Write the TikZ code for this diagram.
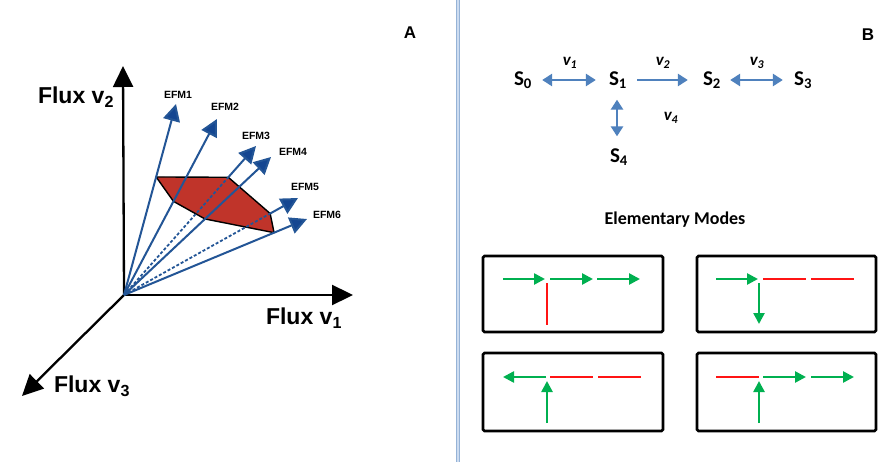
\documentclass[tikz,border=0pt]{standalone}
\usepackage{fontspec}
\setmainfont{Liberation Sans}
\newfontfamily\calfam{Carlito}
\usetikzlibrary{arrows.meta,calc}
\definecolor{efmblue}{RGB}{35,85,150}
\definecolor{efmhead}{RGB}{20,70,145}
\definecolor{polyred}{RGB}{192,52,42}
\definecolor{rxnblue}{RGB}{79,129,189}
\definecolor{emgreen}{RGB}{0,176,80}
\definecolor{emred}{RGB}{255,20,20}
\definecolor{divblue}{RGB}{149,179,215}
\definecolor{divlight}{RGB}{205,220,240}
\tikzset{
 axis/.style={line width=2.3pt, draw=black, -{Triangle[length=21pt,width=20pt]}},
 efm/.style={line width=2pt, draw=efmblue, -{Triangle[length=17pt,width=17pt,fill=efmhead]}},
 efmdash/.style={line width=1.8pt, draw=efmblue, dash pattern=on 3pt off 2pt},
 flux/.style={font=\fontsize{23}{27}\selectfont\bfseries, inner sep=0pt},
 efmlab/.style={font=\fontsize{10.5}{12}\selectfont\bfseries, inner sep=0pt},
 panel/.style={font=\fontsize{17}{20}\selectfont\bfseries, inner sep=0pt},
 met/.style={font=\calfam\bfseries\fontsize{21}{25}\selectfont, inner sep=0pt},
 rate/.style={font=\calfam\bfseries\itshape\fontsize{17}{20}\selectfont, inner sep=0pt},
 title/.style={font=\calfam\bfseries\fontsize{18}{22}\selectfont, inner sep=0pt},
 rxn/.style={line width=2.8pt, draw=rxnblue, {Triangle[length=10pt,width=12pt]}-{Triangle[length=10pt,width=12pt]}},
 rxnf/.style={line width=2.8pt, draw=rxnblue, -{Triangle[length=10pt,width=12pt]}},
 modebox/.style={draw=black, line width=2.6pt, rounded corners=1.5pt},
 gon/.style={line width=2.5pt, draw=emgreen, -{Triangle[length=11pt,width=11pt]}},
 goff/.style={line width=2.5pt, draw=emred},
}
\begin{document}
\begin{tikzpicture}[x=1pt,y=-1pt]
\useasboundingbox (0,0) rectangle (896,462);
\fill[white] (0,0) rectangle (896,462);

% divider
\draw[draw=divblue, line width=1.8pt, double=divlight, double distance=1.2pt] (458,0) -- (458,462);

% ---------- Panel A ----------
\node[panel] (A) at (410,33) {A};
\coordinate (O) at (124,295);
\coordinate (yax) at (123,66);
\coordinate (xax) at (353,295);
\coordinate (zax) at (22,396);
\draw[axis] (O) -- (yax);
\draw[axis] (O) -- (xax);
\draw[axis] (O) -- (zax);
\node[flux] (fv2) at (76,97) {Flux v\textsubscript{2}};
\node[flux] (fv1) at (304,318) {Flux v\textsubscript{1}};
\node[flux] (fv3) at (92,386) {Flux v\textsubscript{3}};

\coordinate (e1) at (176,104);
\coordinate (e2) at (217,119);
\coordinate (e3) at (256,146);
\coordinate (e4) at (271,157);
\coordinate (e5) at (298,198);
\coordinate (e6) at (307,219);
\coordinate (p1) at ($(O)!0.618!(e1)$);
\coordinate (p2) at ($(O)!0.532!(e2)$);
\coordinate (p3) at ($(O)!0.79!(e3)$);
\coordinate (p4) at ($(O)!0.551!(e4)$);
\coordinate (p5) at ($(O)!0.84!(e5)$);
\coordinate (p6) at ($(O)!0.82!(e6)$);

\filldraw[fill=polyred, draw=black, line width=1.4pt, line join=round]
  (p1) -- (p3) -- (p5) -- (p6) -- (p4) -- (p2) -- cycle;

\draw[efm] (O) -- (e1);
\draw[efm] (O) -- (e2);
\draw[efmdash] (O) -- (p3);
\draw[efm] (p3) -- (e3);
\draw[efm] (O) -- (e4);
\draw[efmdash] (O) -- (p5);
\draw[efm] (p5) -- (e5);
\draw[efm] (O) -- (e6);

\node[efmlab] (l1) at (178,95) {EFM1};
\node[efmlab] (l2) at (225,107) {EFM2};
\node[efmlab] (l3) at (256,136) {EFM3};
\node[efmlab] (l4) at (293,152) {EFM4};
\node[efmlab] (l5) at (305,187) {EFM5};
\node[efmlab] (l6) at (327,215) {EFM6};

% ---------- Panel B ----------
\node[panel] (B) at (868,35) {B};
\node[met] (s0) at (523,80) {S\textsubscript{0}};
\node[met] (s1) at (618,80) {S\textsubscript{1}};
\node[met] (s2) at (712,80) {S\textsubscript{2}};
\node[met] (s3) at (803,80) {S\textsubscript{3}};
\node[met] (s4) at (619,157) {S\textsubscript{4}};
\draw[rxn] ([xshift=10pt]s0.east) -- ([xshift=-13pt]s1.west);
\draw[rxnf] ([xshift=10pt]s1.east) -- ([xshift=-15pt]s2.west);
\draw[rxn] ([xshift=9pt]s2.east) -- ([xshift=-11pt]s3.west);
\draw[rxn] ([xshift=-1pt,yshift=-11pt]s1.south) -- ([xshift=-2pt,yshift=12pt]s4.north);
\node[rate] (v1) at (570,63) {v\textsubscript{1}};
\node[rate] (v2) at (663,63) {v\textsubscript{2}};
\node[rate] (v3) at (757,63) {v\textsubscript{3}};
\node[rate] (v4) at (671,118) {v\textsubscript{4}};

\node[title] (em) at (675,220) {Elementary Modes};

% mode boxes
\draw[modebox] (483,256) rectangle (663,332);
\draw[modebox] (697,256) rectangle (876,332);
\draw[modebox] (483,353) rectangle (663,431);
\draw[modebox] (697,353) rectangle (876,431);

% box 1
\draw[gon] (503,279) -- (545,279);
\draw[gon] (550,279) -- (593,279);
\draw[gon] (597,279) -- (640,279);
\draw[goff] (547,283) -- (547,325);
% box 2
\draw[gon] (716,279) -- (758,279);
\draw[goff] (763,279) -- (806,279);
\draw[goff] (811,279) -- (854,279);
\draw[gon] (759,283) -- (759,324);
% box 3
\draw[gon] (546,377) -- (503,377);
\draw[goff] (550,377) -- (593,377);
\draw[goff] (598,377) -- (641,377);
\draw[gon] (547,423) -- (547,381);
% box 4
\draw[goff] (716,377) -- (759,377);
\draw[gon] (763,377) -- (806,377);
\draw[gon] (811,377) -- (854,377);
\draw[gon] (759,423) -- (759,381);
\end{tikzpicture}
\end{document}
